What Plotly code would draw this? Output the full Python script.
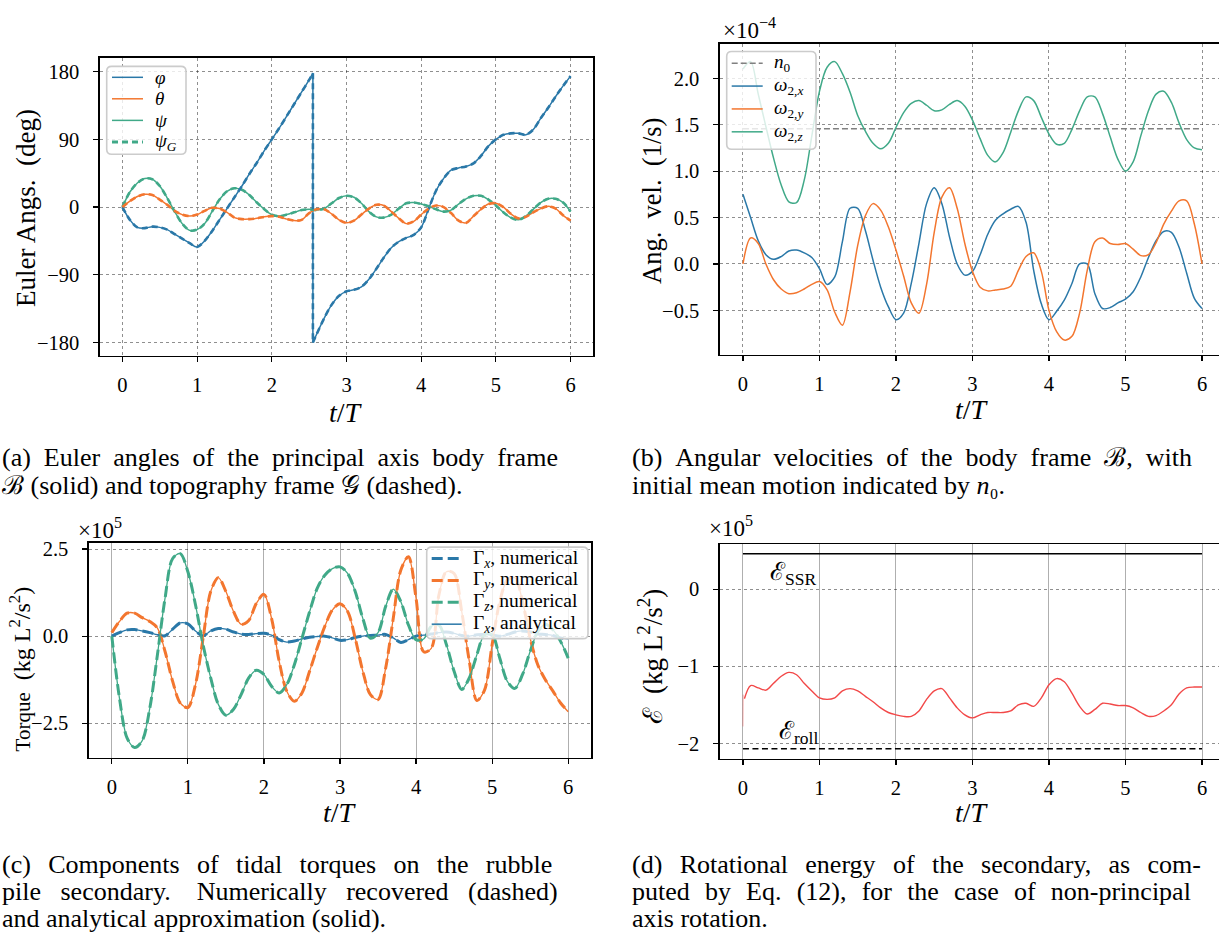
import plotly.graph_objects as go

W, H = 1219, 938
SERIF = "Liberation Serif, DejaVu Serif, serif"
BLUE = "#2a78a8"
ORANGE = "#f3762f"
GREEN = "#40a988"
RED = "#f24848"

# ---------------- data ----------------
t = [round(0.1 * i, 1) for i in range(61)]

# (a) Euler angles (deg); phi wraps at t = 2.55
phi_t1 = t[:26] + [2.55]
phi1 = [0, -17, -27, -28, -26, -27, -30, -36, -42, -48, -53, -45, -32, -17, -2, 13,
        28, 44, 59, 75, 90, 105, 121, 137, 153, 169, 178]
phi_t2 = [2.55] + t[26:]
phi2 = [-180, -169, -148, -130, -118, -112, -110, -106, -96, -82, -67, -54, -46, -41,
        -37, -27, -2, 22, 38, 49, 52, 54, 58, 68, 81, 90, 96, 98, 98, 96, 103, 118,
        132, 147, 161, 174]
theta = [0, 8, 14, 17, 16, 10, 3, -5, -10, -12,
         -10, -5, -1, -2, -7, -14, -16, -16, -15, -13,
         -12, -13, -16, -18, -17, -8, -3, -3, -9, -17,
         -21, -18, -10, -2, 3, 2, -6, -15, -22, -19,
         -10, -2, 2, 0, -8, -18, -21, -12, -3, 4,
         5, 0, -9, -15, -13, -7, -2, 1, -2, -11, -18]
psi = [0, 20, 32, 38, 37, 28, 12, -6, -22, -31,
       -30, -22, -6, 10, 21, 25, 23, 16, 6, -3,
       -10, -12, -10, -7, -4, -3, -4, -2, 5, 12,
       15, 13, 5, -6, -13, -14, -10, -2, 5, 6,
       4, 1, -3, -6, -4, 4, 11, 15, 15, 10,
       2, -7, -14, -17, -12, -3, 6, 11, 11, 6, -6]

# (b) angular velocities (x1e-4 1/s)
n0 = 1.457
wx = [0.75, 0.5, 0.25, 0.1, 0.05, 0.08, 0.14, 0.15, 0.12, 0.07,
      -0.05, -0.22, -0.14, 0.24, 0.6, 0.6, 0.36, 0.04, -0.25, -0.46,
      -0.6, -0.53, -0.21, 0.22, 0.65, 0.82, 0.65, 0.29, 0.0, -0.12,
      -0.08, 0.1, 0.32, 0.47, 0.54, 0.59, 0.62, 0.45, -0.07, -0.43,
      -0.6, -0.51, -0.39, -0.21, 0.0, 0.0, -0.32, -0.48, -0.47, -0.42,
      -0.38, -0.3, -0.14, 0.07, 0.25, 0.35, 0.34, 0.18, -0.1, -0.37, -0.48]
wy = [0.0, 0.28, 0.22, 0.0, -0.17, -0.27, -0.32, -0.31, -0.27, -0.22,
      -0.19, -0.28, -0.52, -0.66, -0.3, 0.2, 0.52, 0.65, 0.58, 0.4,
      0.15, -0.13, -0.42, -0.53, -0.22, 0.34, 0.72, 0.82, 0.6, 0.22,
      -0.08, -0.25, -0.29, -0.28, -0.27, -0.24, -0.07, 0.08, 0.12, -0.08,
      -0.5, -0.73, -0.82, -0.78, -0.53, -0.07, 0.24, 0.28, 0.22, 0.21,
      0.22, 0.16, 0.09, 0.1, 0.23, 0.43, 0.57, 0.68, 0.68, 0.43, 0.0]
wz = [2.10, 2.18, 1.83, 1.48, 1.14, 0.85, 0.67, 0.66, 0.9, 1.38,
      1.86, 2.12, 2.18, 2.05, 1.85, 1.6, 1.43, 1.3, 1.24, 1.3,
      1.47, 1.63, 1.73, 1.76, 1.71, 1.65, 1.66, 1.72, 1.76, 1.7,
      1.55, 1.35, 1.17, 1.1, 1.2, 1.42, 1.65, 1.8, 1.76, 1.58,
      1.4, 1.29, 1.3, 1.45, 1.65, 1.8, 1.8, 1.62, 1.37, 1.13,
      1.0, 1.1, 1.38, 1.65, 1.83, 1.86, 1.74, 1.52, 1.34, 1.25, 1.23]

# (c) tidal torques (x1e5 kg L^2/s^2)
gx = [0, 0.1, 0.18, 0.19, 0.15, 0.1, 0.04, 0.01, 0.2, 0.38,
      0.35, 0.15, 0.01, 0.15, 0.22, 0.2, 0.12, 0.06, 0.05, 0.07,
      0.08, 0.03, -0.1, -0.17, -0.14, -0.08, -0.03, -0.01, 0.0, -0.05,
      -0.12, -0.1, -0.04, 0.0, 0.02, 0.03, 0.05, -0.05, -0.18, -0.1,
      0.0, 0.03, 0.06, 0.1, 0.12, 0.08, 0.02, 0.0, 0.04, 0.05,
      0.03, 0.0, 0.05, 0.12, 0.15, 0.12, 0.06, 0.05, 0.02, -0.05, -0.08]
gy = [0.1, 0.42, 0.66, 0.66, 0.53, 0.42, 0.23, -0.44, -1.3, -1.92,
      -2.05, -1.39, -0.06, 1.28, 1.68, 1.28, 0.71, 0.34, 0.45, 0.94,
      1.2, 0.51, -0.72, -1.58, -1.87, -1.63, -1.01, -0.34, 0.28, 0.75,
      0.93, 0.71, -0.06, -1.01, -1.68, -1.82, -0.92, 0.51, 1.9, 2.28,
      1.09, -0.45, -0.35, 1.18, 1.85, 1.8, 0.71, -0.72, -1.85, -1.55,
      -0.25, 0.99, 1.61, 1.68, 0.99, -0.06, -0.82, -1.25, -1.58, -1.92, -2.17]
gz = [0, -1.77, -2.92, -3.2, -3.0, -2.06, -0.53, 1.09, 2.23, 2.37,
      1.85, 0.9, -0.25, -1.2, -1.96, -2.27, -2.1, -1.68, -1.2, -0.98,
      -1.1, -1.44, -1.63, -1.39, -0.82, -0.06, 0.7, 1.37, 1.75, 1.94,
      1.99, 1.8, 1.28, 0.51, -0.06, 0.1, 0.85, 1.35, 0.99, 0.32,
      -0.1, -0.08, 0.28, 0.32, -0.25, -1.01, -1.53, -1.2, -0.53, 0.04,
      0.04, -0.63, -1.3, -1.5, -1.1, -0.44, 0.13, 0.34, 0.18, -0.15, -0.63]

# (d) rotational energy (x1e5 kg L^2/s^2)
E_ssr = 0.46
E_roll = -2.07
E0_t = [0.0, 0.004, 0.02]
E0 = [-1.78, -1.37, -1.42]
E_t = [0.02] + t[1:]
E = [-1.42, -1.25, -1.28, -1.31, -1.22, -1.13, -1.08, -1.11, -1.22, -1.32, -1.41,
     -1.43, -1.41, -1.32, -1.29, -1.32, -1.39, -1.46, -1.54, -1.6, -1.63,
     -1.65, -1.65, -1.58, -1.43, -1.32, -1.29, -1.41, -1.54, -1.63, -1.67,
     -1.63, -1.6, -1.6, -1.6, -1.58, -1.5, -1.48, -1.52, -1.41, -1.24,
     -1.16, -1.2, -1.35, -1.52, -1.62, -1.56, -1.48, -1.49, -1.51, -1.51,
     -1.54, -1.6, -1.65, -1.64, -1.58, -1.5, -1.36, -1.28, -1.27, -1.27]

xticks = [0, 1, 2, 3, 4, 5, 6]

# legend labels
leg_a = ["<i>φ</i>", "<i>θ</i>", "<i>ψ</i>", "<i>ψ</i><sub><i>G</i></sub>"]
leg_b = ["<i>n</i><sub>0</sub>", "<i>ω</i><sub>2,<i>x</i></sub>",
         "<i>ω</i><sub>2,<i>y</i></sub>", "<i>ω</i><sub>2,<i>z</i></sub>"]
leg_c = ["Γ<sub><i>x</i></sub>, numerical", "Γ<sub><i>y</i></sub>, numerical",
         "Γ<sub><i>z</i></sub>, numerical", "Γ<sub><i>x</i></sub>, analytical"]

# ---------------- figure ----------------
fig = go.Figure()


def line(x, y, ax, color, width, dash="solid", shape="spline"):
    fig.add_trace(go.Scatter(
        x=x, y=y, xaxis="x" + ax, yaxis="y" + ax, mode="lines",
        line=dict(color=color, width=width, dash=dash, shape=shape, smoothing=0.9),
        showlegend=False, hoverinfo="skip"))


DASH_A = "6px,4px"
# (a)
line(phi_t1, phi1, "", BLUE, 1.5)
line(phi_t2, phi2, "", BLUE, 1.5)
line([phi_t1[-1], phi_t2[0]], [phi1[-1], phi2[0]], "", BLUE, 1.5, shape="linear")
line(t, theta, "", ORANGE, 1.5)
line(t, psi, "", GREEN, 1.5)
line(t, psi, "", GREEN, 2.6, dash=DASH_A)
line(phi_t1, phi1, "", BLUE, 2.6, dash=DASH_A)
line(phi_t2, phi2, "", BLUE, 2.6, dash=DASH_A)
line([phi_t1[-1], phi_t2[0]], [phi1[-1], phi2[0]], "", BLUE, 2.6, dash=DASH_A, shape="linear")
line(t, theta, "", ORANGE, 2.6, dash=DASH_A)

# (b)
line([t[0], t[-1]], [n0, n0], "2", "#808080", 1.5, dash="6px,3px", shape="linear")
line(t, wx, "2", BLUE, 1.5)
line(t, wy, "2", ORANGE, 1.5)
line(t, wz, "2", GREEN, 1.5)

# (c)
DASH_C = "11px,5px"
line(t, gx, "3", BLUE, 3, dash=DASH_C)
line(t, gy, "3", ORANGE, 3, dash=DASH_C)
line(t, gz, "3", GREEN, 3, dash=DASH_C)
line(t, gx, "3", BLUE, 1.3)
line(t, gy, "3", ORANGE, 1.3)
line(t, gz, "3", GREEN, 1.3)

# (d)
line([t[0], t[-1]], [E_ssr, E_ssr], "4", "black", 1.5, shape="linear")
line([t[0], t[-1]], [E_roll, E_roll], "4", "black", 1.5, dash="6px,3.5px", shape="linear")
line(E0_t, E0, "4", "rgba(242,72,72,0.3)", 1.4, shape="linear")
line(E_t, E, "4", RED, 1.4)


# ---------------- axes ----------------
def px(x):
    return x / W


def py(y):
    return 1 - y / H


GRIDDOT = dict(showgrid=True, gridcolor="rgba(0,0,0,0.55)", gridwidth=0.8, griddash="dot")
GRIDSOLID = dict(showgrid=True, gridcolor="rgba(0,0,0,0.35)", gridwidth=0.9, griddash="solid")
TICKSIZE = 20.5


def axis(domain, rng, tickvals, ticktext, anchor, mirror=True, grid=GRIDDOT, standoff=5):
    d = dict(domain=domain, range=rng, tickvals=tickvals, ticktext=ticktext,
             anchor=anchor, showline=True, linecolor="black", linewidth=1.6,
             mirror=mirror, ticks="outside", ticklen=5, tickwidth=1.2,
             tickcolor="black", zeroline=False, ticklabelstandoff=standoff,
             tickfont=dict(family=SERIF, size=TICKSIZE, color="black"))
    d.update(grid)
    return d


xt = [str(v) for v in xticks]
XB = (W - 743) / 76.5  # right edge of panels (b),(d) is clipped by the page

fig.update_layout(
    xaxis=axis([px(100), px(593)], [-0.3, 6.3], xticks, xt, "y"),
    yaxis=axis([py(352.7), py(53.3)], [-197.7, 198.1], [-180, -90, 0, 90, 180],
               ["−180", "−90", "0", "90", "180"], "x", standoff=10),
    xaxis2=axis([px(720), 1.0], [-0.3, XB], xticks, xt, "y2"),
    yaxis2=axis([py(351.7), py(39.3)], [-0.979, 2.369], [-0.5, 0, 0.5, 1.0, 1.5, 2.0],
                ["−0.5", "0.0", "0.5", "1.0", "1.5", "2.0"], "x2", mirror=False, standoff=10),
    xaxis3=axis([px(89), px(591)], [-0.3, 6.3], xticks, xt, "y3", grid=GRIDSOLID),
    yaxis3=axis([py(756.7), py(540.7)], [-3.49, 2.68], [-2.5, 0, 2.5],
                ["−2.5", "0.0", "2.5"], "x3", standoff=10),
    xaxis4=axis([px(720), 1.0], [-0.3, XB], xticks, xt, "y4", grid=GRIDSOLID),
    yaxis4=axis([py(757.7), py(542)], [-2.199, 0.585], [-2, -1, 0],
                ["−2", "−1", "0"], "x4", mirror=False, standoff=10),
)

ann = []
shapes = []


def text(s, x, y, size, xanchor="center", yanchor="middle", angle=0, xref="paper", yref="paper"):
    ann.append(dict(text=s, x=x if xref != "paper" else px(x),
                    y=y if yref != "paper" else py(y), xref=xref, yref=yref,
                    xanchor=xanchor, yanchor=yanchor, textangle=angle, showarrow=False,
                    font=dict(family=SERIF, size=size, color="black")))


def legend(x0, y0, x1, y1, rows, sx0, sx1, tx, size):
    r = 5
    p = (f"M{px(x0 + r)},{py(y0)} L{px(x1 - r)},{py(y0)} Q{px(x1)},{py(y0)} {px(x1)},{py(y0 + r)} "
         f"L{px(x1)},{py(y1 - r)} Q{px(x1)},{py(y1)} {px(x1 - r)},{py(y1)} "
         f"L{px(x0 + r)},{py(y1)} Q{px(x0)},{py(y1)} {px(x0)},{py(y1 - r)} "
         f"L{px(x0)},{py(y0 + r)} Q{px(x0)},{py(y0)} {px(x0 + r)},{py(y0)} Z")
    shapes.append(dict(type="path", path=p, xref="paper", yref="paper", layer="above",
                       fillcolor="rgba(255,255,255,0.8)",
                       line=dict(color="rgba(204,204,204,1)", width=1.6)))
    for (ly, label, color, width, dash) in rows:
        shapes.append(dict(type="line", xref="paper", yref="paper", layer="above",
                           x0=px(sx0), x1=px(sx1), y0=py(ly), y1=py(ly),
                           line=dict(color=color, width=width, dash=dash)))
        text(label, tx, ly, size, xanchor="left")


legend(106.7, 61.7, 186, 150, [
    (72.7, leg_a[0], BLUE, 1.5, "solid"),
    (94.3, leg_a[1], ORANGE, 1.5, "solid"),
    (116, leg_a[2], GREEN, 1.5, "solid"),
    (137.7, leg_a[3], GREEN, 3, "6px,4px"),
], 112, 143, 153, 19)

legend(726.7, 46.7, 816, 145, [
    (58.5, leg_b[0], "#808080", 1.5, "6px,3px"),
    (81.5, leg_b[1], BLUE, 1.5, "solid"),
    (104.5, leg_b[2], ORANGE, 1.5, "solid"),
    (127.5, leg_b[3], GREEN, 1.5, "solid"),
], 731.7, 762.7, 772, 19)

legend(426.7, 545, 588, 637, [
    (556.5, leg_c[0], BLUE, 3, "11px,5px"),
    (578.5, leg_c[1], ORANGE, 3, "11px,5px"),
    (600.5, leg_c[2], GREEN, 3, "11px,5px"),
    (622.5, leg_c[3], BLUE, 1.5, "solid"),
], 431.7, 461.7, 471, 19.5)

# axis titles
text("<i>t</i>/<i>T</i>", 346, 410, 28)
text("<i>t</i>/<i>T</i>", 972, 407, 28)
text("<i>t</i>/<i>T</i>", 340, 812, 28)
text("<i>t</i>/<i>T</i>", 972, 812, 28)
text("Euler Angs.  (deg)", 26, 204, 27, angle=-90)
text("Ang.  vel.  (1/s)", 652, 197, 26.5, angle=-90)
text("<span style='font-size:21px'>Torque</span>  (kg L<sup>2</sup>/s<sup>2</sup>)", 20, 668, 24, angle=-90)
text("ℰ  (kg L<sup>2</sup>/s<sup>2</sup>)", 650, 655, 27, angle=-90)

# offset (multiplier) labels
text("×10<sup>−4</sup>", 721, 24, 23, xanchor="left")
text("×10<sup>5</sup>", 76, 526, 23, xanchor="left")
text("×10<sup>5</sup>", 707, 524, 23, xanchor="left")

# energy level labels
text("ℰ<sub>SSR</sub>", 0.33, 0.2, 25, xanchor="left", xref="x4", yref="y4")
text("ℰ<sub>roll</sub>", 0.45, -1.86, 25, xanchor="left", xref="x4", yref="y4")


# captions (justified lines get widened word spacing, as in the typeset original)
def justify(s, extra):
    return s.replace(" ", " " + extra)


SP4 = "\u2005"   # four-per-em space
SP3 = "\u2004"   # three-per-em space
SPEN = "\u2002"  # en space
SPH = "\u200A"   # hair space

CAP = 26
text(justify("(a) Euler angles of the principal axis body frame", SP4), 0, 455, CAP, xanchor="left")
text("ℬ (solid) and topography frame 𝒢 (dashed).", 0, 483, CAP, xanchor="left")
text(justify("(b) Angular velocities of the body frame ℬ, with", SP4), 630, 455, CAP, xanchor="left")
text("initial mean motion indicated by <i>n</i>₀.", 630, 483, CAP, xanchor="left")
text(justify("(c) Components of tidal torques on the rubble", SP3 + SPH), 0, 864, CAP, xanchor="left")
text(justify("pile secondary." + SP4 + " Numerically recovered (dashed)", SPEN), 0, 891, CAP, xanchor="left")
text("and analytical approximation (solid).", 0, 918, CAP, xanchor="left")
text(justify("(d) Rotational energy of the secondary, as com-", SP3 + SPH), 630, 864, CAP, xanchor="left")
text(justify("puted by Eq. (12), for the case of non-principal", SP3), 630, 891, CAP, xanchor="left")
text("axis rotation.", 630, 918, CAP, xanchor="left")

fig.update_layout(
    annotations=ann,
    shapes=shapes,
    showlegend=False,
    width=W, height=H,
    margin=dict(l=0, r=0, t=0, b=0),
    paper_bgcolor="white", plot_bgcolor="white",
    font=dict(family=SERIF, color="black"),
)

fig.write_html("out.html",
               config={"displayModeBar": False, "staticPlot": True},
               post_script="document.body.style.margin='0px';document.body.style.overflow='hidden';")
